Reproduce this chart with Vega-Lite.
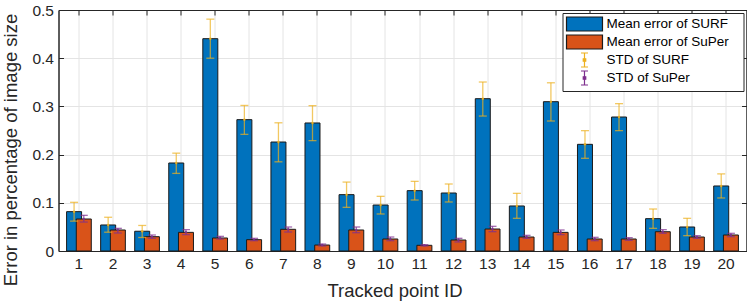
{
  "$schema": "https://vega.github.io/schema/vega-lite/v6.json",
  "width": 688,
  "height": 241,
  "autosize": "none",
  "padding": {"left": 58.5, "top": 10, "right": 0.5, "bottom": 51},
  "config": {
    "font": "Liberation Sans",
    "view": {"stroke": "#262626", "strokeWidth": 1},
    "axis": {
      "domainColor": "#262626",
      "tickColor": "#262626",
      "labelColor": "#262626",
      "titleColor": "#262626",
      "labelFont": "Liberation Sans",
      "titleFont": "Liberation Sans",
      "labelFontSize": 15.5,
      "titleFontSize": 18.5,
      "titleFontWeight": "normal",
      "gridColor": "#e4e4e4",
      "gridWidth": 1
    }
  },
  "data": {
    "values": [
      {"id": 1, "method": "SURF", "mean": 0.0816, "lo": 0.062, "hi": 0.101, "bar": "Mean error of SURF", "std": "STD of SURF"},
      {"id": 2, "method": "SURF", "mean": 0.054, "lo": 0.039, "hi": 0.070, "bar": "Mean error of SURF", "std": "STD of SURF"},
      {"id": 3, "method": "SURF", "mean": 0.041, "lo": 0.028, "hi": 0.053, "bar": "Mean error of SURF", "std": "STD of SURF"},
      {"id": 4, "method": "SURF", "mean": 0.1826, "lo": 0.161, "hi": 0.203, "bar": "Mean error of SURF", "std": "STD of SURF"},
      {"id": 5, "method": "SURF", "mean": 0.4405, "lo": 0.400, "hi": 0.481, "bar": "Mean error of SURF", "std": "STD of SURF"},
      {"id": 6, "method": "SURF", "mean": 0.2725, "lo": 0.242, "hi": 0.302, "bar": "Mean error of SURF", "std": "STD of SURF"},
      {"id": 7, "method": "SURF", "mean": 0.2261, "lo": 0.185, "hi": 0.266, "bar": "Mean error of SURF", "std": "STD of SURF"},
      {"id": 8, "method": "SURF", "mean": 0.2656, "lo": 0.229, "hi": 0.3015, "bar": "Mean error of SURF", "std": "STD of SURF"},
      {"id": 9, "method": "SURF", "mean": 0.1169, "lo": 0.0906, "hi": 0.143, "bar": "Mean error of SURF", "std": "STD of SURF"},
      {"id": 10, "method": "SURF", "mean": 0.0954, "lo": 0.0768, "hi": 0.1134, "bar": "Mean error of SURF", "std": "STD of SURF"},
      {"id": 11, "method": "SURF", "mean": 0.1252, "lo": 0.1058, "hi": 0.1445, "bar": "Mean error of SURF", "std": "STD of SURF"},
      {"id": 12, "method": "SURF", "mean": 0.1203, "lo": 0.1017, "hi": 0.139, "bar": "Mean error of SURF", "std": "STD of SURF"},
      {"id": 13, "method": "SURF", "mean": 0.316, "lo": 0.280, "hi": 0.3506, "bar": "Mean error of SURF", "std": "STD of SURF"},
      {"id": 14, "method": "SURF", "mean": 0.0934, "lo": 0.0678, "hi": 0.1196, "bar": "Mean error of SURF", "std": "STD of SURF"},
      {"id": 15, "method": "SURF", "mean": 0.3098, "lo": 0.2697, "hi": 0.349, "bar": "Mean error of SURF", "std": "STD of SURF"},
      {"id": 16, "method": "SURF", "mean": 0.2213, "lo": 0.1923, "hi": 0.2497, "bar": "Mean error of SURF", "std": "STD of SURF"},
      {"id": 17, "method": "SURF", "mean": 0.278, "lo": 0.2497, "hi": 0.3057, "bar": "Mean error of SURF", "std": "STD of SURF"},
      {"id": 18, "method": "SURF", "mean": 0.0671, "lo": 0.047, "hi": 0.0871, "bar": "Mean error of SURF", "std": "STD of SURF"},
      {"id": 19, "method": "SURF", "mean": 0.0498, "lo": 0.0318, "hi": 0.0678, "bar": "Mean error of SURF", "std": "STD of SURF"},
      {"id": 20, "method": "SURF", "mean": 0.1349, "lo": 0.110, "hi": 0.160, "bar": "Mean error of SURF", "std": "STD of SURF"},
      {"id": 1, "method": "SuPer", "mean": 0.0664, "lo": 0.060, "hi": 0.074, "bar": "Mean error of SuPer", "std": "STD of SuPer"},
      {"id": 2, "method": "SuPer", "mean": 0.0436, "lo": 0.0373, "hi": 0.047, "bar": "Mean error of SuPer", "std": "STD of SuPer"},
      {"id": 3, "method": "SuPer", "mean": 0.0297, "lo": 0.0263, "hi": 0.0332, "bar": "Mean error of SuPer", "std": "STD of SuPer"},
      {"id": 4, "method": "SuPer", "mean": 0.0387, "lo": 0.0339, "hi": 0.0443, "bar": "Mean error of SuPer", "std": "STD of SuPer"},
      {"id": 5, "method": "SuPer", "mean": 0.027, "lo": 0.0249, "hi": 0.0304, "bar": "Mean error of SuPer", "std": "STD of SuPer"},
      {"id": 6, "method": "SuPer", "mean": 0.0235, "lo": 0.0214, "hi": 0.0263, "bar": "Mean error of SuPer", "std": "STD of SuPer"},
      {"id": 7, "method": "SuPer", "mean": 0.045, "lo": 0.0394, "hi": 0.0498, "bar": "Mean error of SuPer", "std": "STD of SuPer"},
      {"id": 8, "method": "SuPer", "mean": 0.0124, "lo": 0.0104, "hi": 0.0145, "bar": "Mean error of SuPer", "std": "STD of SuPer"},
      {"id": 9, "method": "SuPer", "mean": 0.0436, "lo": 0.038, "hi": 0.0498, "bar": "Mean error of SuPer", "std": "STD of SuPer"},
      {"id": 10, "method": "SuPer", "mean": 0.0249, "lo": 0.0214, "hi": 0.029, "bar": "Mean error of SuPer", "std": "STD of SuPer"},
      {"id": 11, "method": "SuPer", "mean": 0.0118, "lo": 0.0104, "hi": 0.0131, "bar": "Mean error of SuPer", "std": "STD of SuPer"},
      {"id": 12, "method": "SuPer", "mean": 0.0228, "lo": 0.0187, "hi": 0.0263, "bar": "Mean error of SuPer", "std": "STD of SuPer"},
      {"id": 13, "method": "SuPer", "mean": 0.0456, "lo": 0.0401, "hi": 0.0512, "bar": "Mean error of SuPer", "std": "STD of SuPer"},
      {"id": 14, "method": "SuPer", "mean": 0.029, "lo": 0.0263, "hi": 0.0325, "bar": "Mean error of SuPer", "std": "STD of SuPer"},
      {"id": 15, "method": "SuPer", "mean": 0.0387, "lo": 0.0339, "hi": 0.0436, "bar": "Mean error of SuPer", "std": "STD of SuPer"},
      {"id": 16, "method": "SuPer", "mean": 0.0249, "lo": 0.0214, "hi": 0.0284, "bar": "Mean error of SuPer", "std": "STD of SuPer"},
      {"id": 17, "method": "SuPer", "mean": 0.0249, "lo": 0.0221, "hi": 0.0277, "bar": "Mean error of SuPer", "std": "STD of SuPer"},
      {"id": 18, "method": "SuPer", "mean": 0.040, "lo": 0.0367, "hi": 0.0443, "bar": "Mean error of SuPer", "std": "STD of SuPer"},
      {"id": 19, "method": "SuPer", "mean": 0.029, "lo": 0.0263, "hi": 0.0318, "bar": "Mean error of SuPer", "std": "STD of SuPer"},
      {"id": 20, "method": "SuPer", "mean": 0.0332, "lo": 0.0297, "hi": 0.0367, "bar": "Mean error of SuPer", "std": "STD of SuPer"}
    ]
  },
  "encoding": {
    "x": {
      "field": "id",
      "type": "ordinal",
      "scale": {"paddingInner": 0.43, "paddingOuter": 0.315},
      "axis": null
    },
    "xOffset": {"field": "method", "type": "nominal", "scale": {"domain": ["SURF", "SuPer"], "paddingInner": 0, "paddingOuter": 0}}
  },
  "resolve": {"axis": {"x": "independent", "y": "independent"}},
  "layer": [
    {
      "mark": {"type": "bar", "width": 15, "strokeWidth": 1},
      "encoding": {
        "x": {
          "field": "id",
          "type": "ordinal",
          "axis": {
            "orient": "bottom",
            "title": "Tracked point ID",
            "labelAngle": 0,
            "grid": true,
            "bandPosition": 0.5,
            "tickSize": -5,
            "labelPadding": 10,
            "titleX": 336,
            "titleY": 45.4,
            "titleBaseline": "alphabetic",
            "titleAlign": "center"
          }
        },
        "y": {
          "field": "mean",
          "type": "quantitative",
          "scale": {"domain": [0, 0.5], "nice": false},
          "axis": {
            "orient": "left",
            "title": "Error in percentage of image size",
            "values": [0, 0.1, 0.2, 0.3, 0.4, 0.5],
            "format": "~g",
            "grid": true,
            "tickSize": -5,
            "labelPadding": 10,
            "titleX": -42,
            "titleY": 139.5,
            "titleAngle": -90,
            "titleBaseline": "alphabetic",
            "titleAlign": "center"
          }
        },
        "fill": {
          "field": "bar",
          "type": "nominal",
          "scale": {
            "domain": ["Mean error of SURF", "Mean error of SuPer", "STD of SURF", "STD of SuPer"],
            "range": ["#0072BD", "#D95319", "#EDB120", "#7E2F8E"]
          },
          "legend": {
            "title": ".",
            "titleOrient": "right",
            "titleColor": "#ffffff",
            "titleFontSize": 13.5,
            "titlePadding": 8,
            "orient": "top-right",
            "offset": 3,
            "fillColor": "white",
            "strokeColor": "#262626",
            "padding": 3,
            "labelFont": "Liberation Sans",
            "labelFontSize": 13.5,
            "labelColor": "#000000",
            "labelOffset": 25,
            "rowPadding": -6,
            "symbolSize": 196,
            "symbolStrokeWidth": 1.2,
            "symbolOpacity": 1,
            "values": ["Mean error of SURF", "Mean error of SuPer", "STD of SURF", "STD of SuPer"]
          }
        },
        "stroke": {
          "field": "bar",
          "type": "nominal",
          "scale": {
            "domain": ["Mean error of SURF", "Mean error of SuPer", "STD of SURF", "STD of SuPer"],
            "range": ["#1a1a1a", "#1a1a1a", "#EDB120", "#7E2F8E"]
          }
        }
      }
    },
    {
      "mark": {"type": "rule", "strokeWidth": 1.3, "strokeOpacity": 0.7},
      "encoding": {
        "y": {"field": "lo", "type": "quantitative", "axis": null},
        "y2": {"field": "hi"},
        "stroke": {"field": "std", "type": "nominal"}
      }
    },
    {
      "mark": {"type": "tick", "size": 8, "thickness": 1.3, "fillOpacity": 0.7, "opacity": 1},
      "encoding": {
        "y": {"field": "lo", "type": "quantitative", "axis": null},
        "fill": {"field": "std", "type": "nominal"}
      }
    },
    {
      "mark": {"type": "tick", "size": 8, "thickness": 1.3, "fillOpacity": 0.7, "opacity": 1},
      "encoding": {
        "y": {"field": "hi", "type": "quantitative", "axis": null},
        "fill": {"field": "std", "type": "nominal"}
      }
    },
    {
      "mark": {"type": "point", "filled": true, "size": 6, "fillOpacity": 0.85, "opacity": 1},
      "encoding": {
        "y": {"field": "mean", "type": "quantitative", "axis": null},
        "fill": {"field": "std", "type": "nominal"}
      }
    },
    {
      "mark": {"type": "point", "filled": false, "size": 0, "strokeWidth": 1.2, "opacity": 1},
      "encoding": {
        "x": {
          "field": "id",
          "type": "ordinal",
          "axis": {"orient": "top", "labels": false, "title": null, "grid": false, "tickSize": -5, "bandPosition": 0.5, "domain": true}
        },
        "y": {
          "field": "mean",
          "type": "quantitative",
          "axis": {"orient": "right", "labels": false, "title": null, "grid": false, "tickSize": -5, "values": [0, 0.1, 0.2, 0.3, 0.4, 0.5], "domain": true}
        },
        "stroke": {"field": "std", "type": "nominal"},
        "fill": {"field": "std", "type": "nominal"},
        "shape": {
          "field": "std",
          "type": "nominal",
          "scale": {
            "domain": ["Mean error of SURF", "Mean error of SuPer", "STD of SURF", "STD of SuPer"],
            "range": [
              "M-1,-1H4.14V1H-1Z",
              "M-1,-1H4.14V1H-1Z",
              "M1.07,-1H2.07M1.57,-1V1M1.07,1H2.07M1.39,-0.18H1.75V0.18H1.39Z",
              "M1.07,-1H2.07M1.57,-1V1M1.07,1H2.07M1.39,-0.18H1.75V0.18H1.39Z"
            ]
          }
        }
      }
    }
  ]
}
